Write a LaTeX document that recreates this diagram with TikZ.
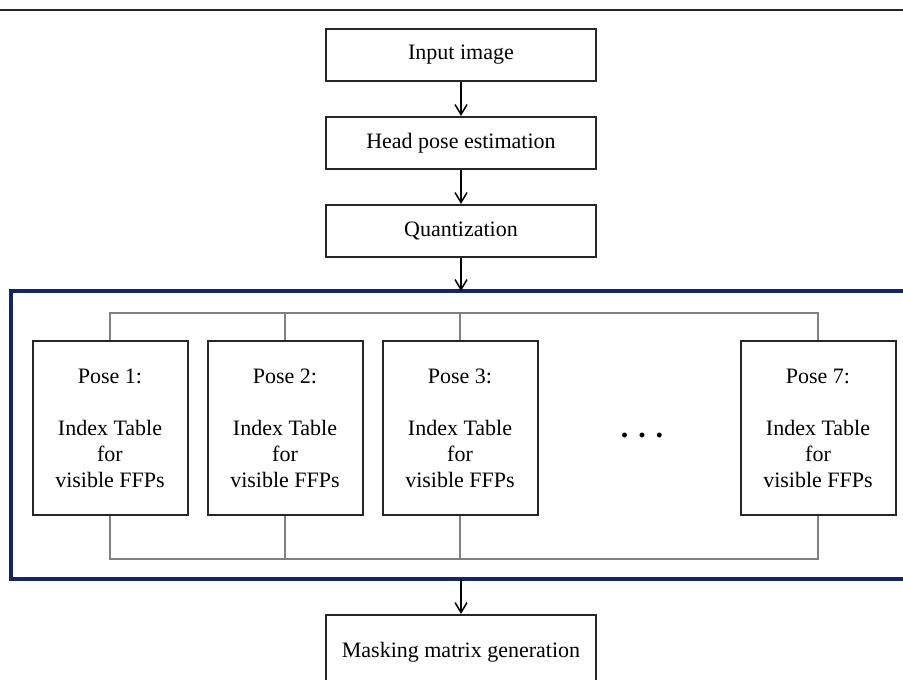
\documentclass[tikz,border=0pt]{standalone}
\usepackage{fontspec}
\setmainfont{Liberation Serif}
\usetikzlibrary{positioning,arrows.meta,calc}
\definecolor{framenavy}{RGB}{22,38,100}

\begin{document}
\begin{tikzpicture}[
        node distance=17pt,
        font=\fontsize{11}{13}\selectfont,
        box/.style={
            rectangle,
            draw=black!85,
            line width=1pt,
            minimum width=135pt,
            minimum height=26pt,
            text centered,
        },
        pose/.style={
            box,
            minimum width=77.5pt,
            minimum height=87pt,
            align=center,
        },
        tall/.style={
            minimum height=37pt,
        },
        arr/.style={
            -{Straight Barb[length=5pt,width=6pt]},
            line width=0.75pt,
        },
        bus/.style={
            draw=black!50,
            line width=0.7pt,
        },
        frame/.style={
            draw=framenavy,
            line width=2pt,
        },
        dots/.style={
            font=\fontsize{15}{18}\selectfont\bfseries,
            inner sep=0pt,
        },
    ]
        \useasboundingbox (0,0) rectangle (451.5pt,-339.5pt);
        \draw [line width=1pt, black!85] (0,-5pt) -- (451.5pt,-5pt);

        \node [box] (input) at (230.5pt,-27.5pt) {Input image};
        \node [box, below=of input] (head) {Head pose estimation};
        \node [box, below=of head] (quant) {Quantization};

        \coordinate (ftl) at (5.5pt,-145.5pt);
        \coordinate (fbr) at (460pt,-289.25pt);
        \coordinate (fin) at (quant |- ftl);
        \coordinate (fout) at (quant |- fbr);
        \draw [frame] (ftl) rectangle (fbr);

        \node [pose, below=41pt of quant, xshift=-0.5pt] (pose3) {Pose 3:\\[13pt]Index Table\\for\\visible FFPs};
        \node [pose, left=9pt of pose3] (pose2) {Pose 2:\\[13pt]Index Table\\for\\visible FFPs};
        \node [pose, left=9pt of pose2] (pose1) {Pose 1:\\[13pt]Index Table\\for\\visible FFPs};
        \node [pose, right=100.5pt of pose3] (pose7) {Pose 7:\\[13pt]Index Table\\for\\visible FFPs};
        \node [dots, xshift=1.5pt, yshift=-3.5pt] (more) at ($(pose3)!0.5!(pose7)$) {. . .};

        \node [box, tall, below=17.75pt of fout] (mask) {Masking matrix generation};

        % bus lines
        \draw [bus] (pose1.north) -- ++(0,13.5pt) -| (pose7.north);
        \draw [bus] (pose2.north) -- ++(0,13.5pt);
        \draw [bus] (pose3.north) -- ++(0,13.5pt);
        \draw [bus] (pose1.south) -- ++(0,-21.5pt) -| (pose7.south);
        \draw [bus] (pose2.south) -- ++(0,-21.5pt);
        \draw [bus] (pose3.south) -- ++(0,-21.5pt);

        % arrows
        \draw [arr] (input) -- (head);
        \draw [arr] (head) -- (quant);
        \draw [arr] (quant) -- (fin);
        \draw [arr] (fout) -- (mask);
    \end{tikzpicture}
\end{document}
